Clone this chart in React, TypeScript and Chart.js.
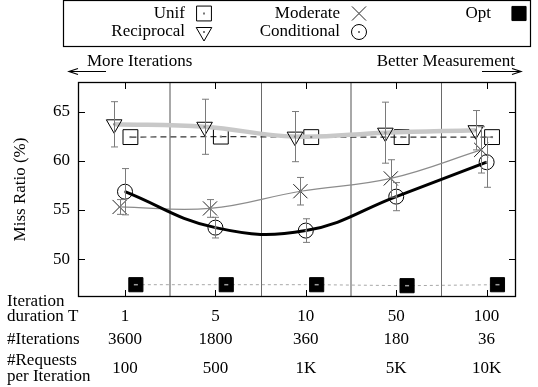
import React, { useEffect, useRef } from 'react';
import { Chart, registerables } from 'chart.js';
import { drawPoint } from 'chart.js/helpers';

Chart.register(...registerables);

// ---------- data ----------
const durations = ['1', '5', '10', '50', '100'];
const iterations = ['3600', '1800', '360', '180', '36'];
const requests = ['100', '500', '1K', '5K', '10K'];
const yTicks = [50, 55, 60, 65];

const unif = [62.4, 62.45, 62.4, 62.4, 62.4];
const reciprocal = [63.7, 63.45, 62.45, 62.85, 63.1];
const reciprocalErr = [2.3, 2.8, 2.55, 3.1, 2.0];
const moderate = [55.3, 55.15, 56.9, 58.2, 61.1];
const moderateErr = [0.75, 0.9, 1.4, 1.9, 2.35];
const conditional = [56.85, 53.2, 52.9, 56.35, 59.85];
const conditionalErr = [2.35, 1.05, 1.2, 1.43, 2.55];
const opt = [47.4, 47.4, 47.4, 47.3, 47.4];

// ---------- style / layout ----------
const FONT = '"Liberation Serif", "Times New Roman", Times, serif';
const FS = 17;
const X_MIN = -0.52;
const X_MAX = 4.325;
const Y_MIN = 46.15;
const Y_MAX = 68;
const SHIFT = { reciprocal: -0.12, moderate: -0.06, conditional: 0, unif: 0.06, opt: 0.12 };

const pts = (vals: number[], shift: number) => vals.map((y, i) => ({ x: i + shift, y }));

const fontSpec = { family: FONT, size: FS };

const datasets: any[] = [
  {
    label: 'Conditional',
    data: pts(conditional, SHIFT.conditional),
    errors: conditionalErr,
    borderColor: '#000',
    borderWidth: 3,
    tension: 0.42,
    pointStyle: 'circle',
    pointRadius: 7.5,
    pointBorderColor: '#000',
    pointBorderWidth: 1,
    pointBackgroundColor: 'rgba(0,0,0,0)',
  },
  {
    label: 'Moderate',
    data: pts(moderate, SHIFT.moderate),
    errors: moderateErr,
    borderColor: '#8c8c8c',
    borderWidth: 1.2,
    tension: 0.4,
    pointStyle: 'crossRot',
    pointRadius: 10,
    pointBorderColor: '#222',
    pointBorderWidth: 1,
    pointBackgroundColor: 'rgba(0,0,0,0)',
  },
  {
    label: 'Reciprocal',
    data: pts(reciprocal, SHIFT.reciprocal),
    errors: reciprocalErr,
    borderColor: '#c8c8c8',
    borderWidth: 4.5,
    tension: 0.4,
    pointStyle: 'triangle',
    pointRotation: 180,
    pointRadius: 9,
    pointBorderColor: '#000',
    pointBorderWidth: 1,
    pointBackgroundColor: 'rgba(0,0,0,0)',
  },
  {
    label: 'Unif',
    data: pts(unif, SHIFT.unif),
    borderColor: '#333',
    borderWidth: 1.2,
    borderDash: [6, 4],
    tension: 0,
    pointStyle: 'rect',
    pointRadius: 10.5,
    pointBorderColor: '#000',
    pointBorderWidth: 1,
    pointBackgroundColor: 'rgba(0,0,0,0)',
  },
  {
    label: 'Opt',
    data: pts(opt, SHIFT.opt),
    borderColor: '#a8a8a8',
    borderWidth: 1,
    borderDash: [3, 3],
    tension: 0,
    pointStyle: 'rect',
    pointRadius: 10,
    pointBorderColor: '#000',
    pointBorderWidth: 1,
    pointBackgroundColor: '#000',
  },
];

// ---------- plugins ----------
const framePlugin = {
  id: 'frame',
  beforeDatasetsDraw(chart: any) {
    const { ctx, chartArea: a, scales } = chart;
    const xs = scales.x;
    ctx.save();
    for (let i = 0; i < durations.length - 1; i++) {
      const light = i % 2 === 0;
      const px = Math.round(xs.getPixelForValue(i + 0.5)) + (light ? 0 : 0.5);
      ctx.strokeStyle = light ? '#a8a8a8' : '#6a6a6a';
      ctx.lineWidth = light ? 2 : 1;
      ctx.beginPath();
      ctx.moveTo(px, a.top);
      ctx.lineTo(px, a.bottom);
      ctx.stroke();
    }
    ctx.restore();
  },
  afterDraw(chart: any) {
    const { ctx, chartArea: a, scales } = chart;
    ctx.save();
    ctx.strokeStyle = '#000';
    ctx.lineWidth = 1.3;
    ctx.strokeRect(a.left + 0.5, a.top + 0.5, a.right - a.left - 1, a.bottom - a.top - 1);
    ctx.lineWidth = 1;
    ctx.beginPath();
    const tl = 7;
    durations.forEach((_, i) => {
      const px = Math.round(scales.x.getPixelForValue(i)) + 0.5;
      ctx.moveTo(px, a.bottom);
      ctx.lineTo(px, a.bottom - tl);
      ctx.moveTo(px, a.top);
      ctx.lineTo(px, a.top + tl);
    });
    yTicks.forEach((v) => {
      const py = Math.round(scales.y.getPixelForValue(v)) + 0.5;
      ctx.moveTo(a.left, py);
      ctx.lineTo(a.left + tl, py);
      ctx.moveTo(a.right, py);
      ctx.lineTo(a.right - tl, py);
    });
    ctx.stroke();
    ctx.restore();
  },
};

const errorBarPlugin = {
  id: 'errorBars',
  afterDatasetsDraw(chart: any) {
    const { ctx } = chart;
    const ys = chart.scales.y;
    ctx.save();
    chart.data.datasets.forEach((ds: any, di: number) => {
      const meta = chart.getDatasetMeta(di);
      meta.data.forEach((pt: any, j: number) => {
        const x = Math.round(pt.x) + 0.5;
        if (ds.errors) {
          const v = ds.data[j].y;
          const e = ds.errors[j];
          const top = ys.getPixelForValue(v + e);
          const bot = ys.getPixelForValue(v - e);
          ctx.strokeStyle = '#7a7a7a';
          ctx.lineWidth = 1;
          ctx.beginPath();
          ctx.moveTo(x, top);
          ctx.lineTo(x, bot);
          ctx.moveTo(x - 3.5, top);
          ctx.lineTo(x + 3.5, top);
          ctx.moveTo(x - 3.5, bot);
          ctx.lineTo(x + 3.5, bot);
          ctx.stroke();
        }
        ctx.fillStyle = ds.label === 'Opt' ? '#9a9a9a' : '#777';
        if (ds.label === 'Opt') ctx.fillRect(pt.x - 2, pt.y - 0.75, 4, 1.5);
        else ctx.fillRect(pt.x - 1, pt.y - 1, 2, 2);
      });
    });
    ctx.restore();
  },
};

const legendSlots = [
  { label: 'Unif', col: 0, row: 0 },
  { label: 'Reciprocal', col: 0, row: 1 },
  { label: 'Moderate', col: 1, row: 0 },
  { label: 'Conditional', col: 1, row: 1 },
  { label: 'Opt', col: 2, row: 0 },
];
const LEGEND_TEXT_RIGHT = [185, 340, 491];
const LEGEND_SYMBOL_X = [204, 359, 519];
const LEGEND_ROW_Y = [13.5, 32];

const annotationPlugin = {
  id: 'annotations',
  afterDraw(chart: any) {
    const { ctx } = chart;
    ctx.save();
    ctx.font = `${FS}px ${FONT}`;
    ctx.fillStyle = '#000';
    ctx.textBaseline = 'middle';

    // legend box
    ctx.strokeStyle = '#000';
    ctx.lineWidth = 1.2;
    ctx.strokeRect(63.5, 0.5, 467, 46);
    legendSlots.forEach((s) => {
      const ds: any = chart.data.datasets.find((d: any) => d.label === s.label);
      const y = LEGEND_ROW_Y[s.row];
      ctx.textAlign = 'right';
      ctx.fillStyle = '#000';
      ctx.fillText(s.label, LEGEND_TEXT_RIGHT[s.col], y);
      ctx.strokeStyle = ds.pointBorderColor;
      ctx.fillStyle = ds.pointBackgroundColor;
      ctx.lineWidth = ds.pointBorderWidth;
      drawPoint(ctx, {
        pointStyle: ds.pointStyle,
        rotation: ds.pointRotation || 0,
        radius: ds.pointRadius,
        borderWidth: ds.pointBorderWidth,
      } as any, LEGEND_SYMBOL_X[s.col], y);
      ctx.fillStyle = '#777';
      if (s.label !== 'Opt') ctx.fillRect(LEGEND_SYMBOL_X[s.col] - 1, y - 1, 2, 2);
    });

    // direction notes
    ctx.fillStyle = '#000';
    ctx.textAlign = 'left';
    ctx.fillText('More Iterations', 87, 62);
    ctx.textAlign = 'right';
    ctx.fillText('Better Measurement', 515, 62);
    ctx.strokeStyle = '#000';
    ctx.lineWidth = 1.2;
    ctx.beginPath();
    ctx.moveTo(106, 71.5);
    ctx.lineTo(69, 71.5);
    ctx.moveTo(78, 68.5);
    ctx.lineTo(69, 71.5);
    ctx.lineTo(78, 74.5);
    ctx.moveTo(482, 71.5);
    ctx.lineTo(521, 71.5);
    ctx.moveTo(512, 68.5);
    ctx.lineTo(521, 71.5);
    ctx.lineTo(512, 74.5);
    ctx.stroke();

    // row labels
    ctx.textAlign = 'left';
    ctx.fillText('Iteration', 7, 302);
    ctx.fillText('duration T', 7, 317);
    ctx.fillText('#Iterations', 7, 340);
    ctx.fillText('#Requests', 7, 361);
    ctx.fillText('per Iteration', 7, 377);
    ctx.restore();
  },
};

const rowAxis = (labels: string[], weight: number, height: number, padding: number) => ({
  type: 'linear',
  position: 'bottom',
  min: X_MIN,
  max: X_MAX,
  weight,
  afterBuildTicks: (s: any) => {
    s.ticks = labels.map((_, i) => ({ value: i }));
  },
  afterFit: (s: any) => {
    s.height = height;
  },
  grid: { display: false, drawTicks: false },
  border: { display: false },
  ticks: {
    callback: (v: number) => labels[Math.round(v)] ?? '',
    font: fontSpec,
    color: '#000',
    padding,
    maxRotation: 0,
    autoSkip: false,
  },
});

export default function App() {
  const ref = useRef<HTMLCanvasElement>(null);
  useEffect(() => {
    const chart = new Chart(ref.current as HTMLCanvasElement, {
      type: 'line',
      data: { datasets },
      options: {
        responsive: false,
        animation: false,
        devicePixelRatio: 1,
        layout: { padding: { top: 82, right: 22, left: 0, bottom: 0 } },
        plugins: { legend: { display: false }, tooltip: { enabled: false } },
        scales: {
          x: rowAxis(durations, 0, 30, 9),
          x2: rowAxis(iterations, 1, 24, 2),
          x3: rowAxis(requests, 2, 36, 7),
          y: {
            type: 'linear',
            position: 'left',
            min: Y_MIN,
            max: Y_MAX,
            afterBuildTicks: (s: any) => {
              s.ticks = yTicks.map((v) => ({ value: v }));
            },
            afterFit: (s: any) => {
              s.width = 78;
            },
            grid: { display: false, drawTicks: false },
            border: { display: false },
            ticks: { font: fontSpec, color: '#000', padding: 8 },
            title: {
              display: true,
              text: 'Miss Ratio (%)',
              font: fontSpec,
              color: '#000',
              padding: { top: 10, bottom: 0 },
            },
          },
        } as any,
      },
      plugins: [framePlugin, errorBarPlugin, annotationPlugin],
    } as any);
    return () => chart.destroy();
  }, []);
  return (
    <div style={{ position: 'fixed', left: 0, top: 0, width: 538, height: 387, background: '#fff' }}>
      <canvas ref={ref} width={538} height={387} style={{ display: 'block', width: 538, height: 387 }} />
    </div>
  );
}
